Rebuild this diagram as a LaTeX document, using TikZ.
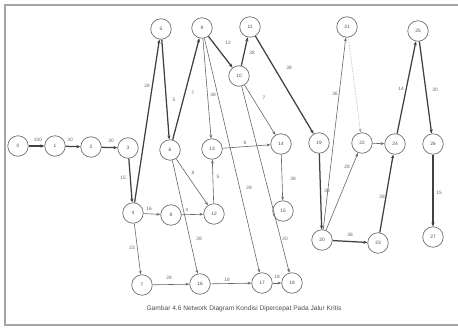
\documentclass[tikz,border=0pt]{standalone}
\usepackage{fontspec}
\setmainfont{Liberation Sans}
\usetikzlibrary{arrows.meta}
\begin{document}
\begin{tikzpicture}[x=1pt,y=-1pt,
  nd/.style={circle,draw=black!55,line width=0.7pt,fill=white,minimum size=20.5pt,inner sep=0pt,font=\fontsize{4.8}{5}\selectfont,text=black!70},
  act/.style={draw=black!60,line width=0.6pt,-{Stealth[length=3.8pt,width=2.8pt]}},
  crit/.style={draw=black!75,line width=1.25pt,-{Stealth[length=4pt,width=3.2pt]}},
  faint/.style={draw=black!40,line width=0.55pt,densely dotted,-{Stealth[length=3.8pt,width=2.8pt]}},
  lbl/.style={font=\fontsize{4.8}{5}\selectfont,text=black!60,inner sep=0pt},
  frame/.style={draw=black!35,line width=1.8pt}
]
\useasboundingbox (0,0) rectangle (458,327);
\draw[frame] (458,5) -- (5,5) -- (5,325) -- (458,325);

% nodes
\node[nd] (n0) at (18,146) {0};
\node[nd] (n1) at (55,146) {1};
\node[nd] (n2) at (91,147) {2};
\node[nd] (n3) at (128,148) {3};
\node[nd] (n4) at (133,213) {4};
\node[nd] (n5) at (161,29) {5};
\node[nd] (n6) at (170,150) {6};
\node[nd] (n7) at (142,285) {7};
\node[nd] (n8) at (171,215) {8};
\node[nd] (n9) at (202,28) {9};
\node[nd] (n10) at (239,76) {10};
\node[nd] (n11) at (250,27) {11};
\node[nd] (n12) at (214,214) {12};
\node[nd] (n13) at (212,149) {13};
\node[nd] (n14) at (281,144) {14};
\node[nd] (n15) at (283,211) {15};
\node[nd] (n16) at (200,284) {16};
\node[nd] (n17) at (262,283) {17};
\node[nd] (n18) at (292,283) {18};
\node[nd] (n19) at (319,143) {19};
\node[nd] (n20) at (322,240) {20};
\node[nd] (n21) at (347,27) {21};
\node[nd] (n22) at (362,143) {22};
\node[nd] (n23) at (378,243) {23};
\node[nd] (n24) at (395,144) {24};
\node[nd] (n25) at (418,31) {25};
\node[nd] (n26) at (433,144) {26};
\node[nd] (n27) at (433,237) {27};

% critical path
\draw[crit] (n0) -- (n1);
\draw[crit] (n1) -- (n2);
\draw[crit] (n2) -- (n3);
\draw[crit] (n3) -- (n4);
\draw[crit] (n4) -- (n5);
\draw[crit] (n5) -- (n6);
\draw[crit] (n6) -- (n9);
\draw[crit] (n9) -- (n10);
\draw[crit] (n10) -- (n11);
\draw[crit] (n11) -- (n19);
\draw[crit] (n19) -- (n20);
\draw[crit] (n20) -- (n23);
\draw[crit] (n23) -- (n24);
\draw[crit] (n24) -- (n25);
\draw[crit] (n25) -- (n26);
\draw[crit] (n26) -- (n27);

% other activities
\draw[act] (n9) -- (n13);
\draw[act] (n9) -- (n17);
\draw[act] (n10) -- (n18);
\draw[act] (n10) -- (n14);
\draw[act] (n13) -- (n14);
\draw[act] (n14) -- (n15);
\draw[act] (n6) -- (n12);
\draw[act] (n6) -- (n16);
\draw[act] (n4) -- (n8);
\draw[act] (n8) -- (n12);
\draw[act] (n12) -- (n13);
\draw[act] (n4) -- (n7);
\draw[act] (n7) -- (n16);
\draw[act] (n16) -- (n17);
\draw[act] (n17) -- (n18);
\draw[act] (n20) -- (n21);
\draw[faint] (n21) -- (n22);
\draw[act] (n20) -- (n22);
\draw[act] (n22) -- (n24);

% durations
\node[lbl] at (38,140) {100};
\node[lbl] at (70,140) {30};
\node[lbl] at (111,141) {30};
\node[lbl] at (123,178) {15};
\node[lbl] at (147,86) {28};
\node[lbl] at (174,100) {5};
\node[lbl] at (193,93) {7};
\node[lbl] at (228,43) {12};
\node[lbl] at (252,53) {38};
\node[lbl] at (289,68) {38};
\node[lbl] at (213,95) {38};
\node[lbl] at (249,188) {28};
\node[lbl] at (285,239) {20};
\node[lbl] at (264,98) {7};
\node[lbl] at (245,143) {8};
\node[lbl] at (293,179) {38};
\node[lbl] at (193,173) {8};
\node[lbl] at (199,239) {28};
\node[lbl] at (149,209) {16};
\node[lbl] at (187,210) {4};
\node[lbl] at (218,177) {5};
\node[lbl] at (132,248) {23};
\node[lbl] at (169,278) {28};
\node[lbl] at (227,280) {18};
\node[lbl] at (277,277) {18};
\node[lbl] at (327,191) {38};
\node[lbl] at (335,94) {36};
\node[lbl] at (347,167) {28};
\node[lbl] at (350,235) {38};
\node[lbl] at (382,197) {28};
\node[lbl] at (401,89) {14};
\node[lbl] at (435,90) {30};
\node[lbl] at (439,193) {15};

\node[font=\fontsize{6.6}{7}\selectfont,text=black!70,inner sep=0pt] (cap) at (244,309) {Gambar 4.6 Network Diagram Kondisi Dipercepat Pada Jalur Kritis};
\end{tikzpicture}
\end{document}
